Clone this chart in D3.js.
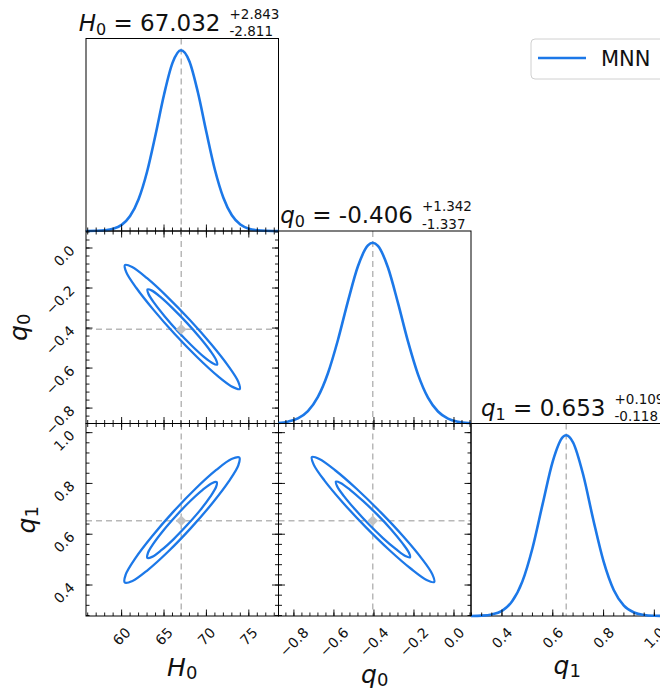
<!DOCTYPE html>
<html lang="en">
<head>
<meta charset="UTF-8">
<link rel="icon" href="data:,">
<style>
body {
  margin: 0;
  background: #fff;
}
svg text {
  font-family: "DejaVu Sans", sans-serif;
  fill: #111;
}
</style>
<script src="https://unpkg.com/d3@7.0.1/dist/d3.min.js"></script>
</head>
<body>
<svg id="view"></svg>
<script>
// parameters, best fit values and the 68% errors printed in the titles
const symbolMain = ["H", "q", "q"];
const symbolSub = ["0", "0", "1"];
const bestFit = [67.032, -0.406, 0.653];
const bestFitText = ["67.032", "-0.406", "0.653"];
const errUp = ["+2.843", "+1.342", "+0.109"];
const errDown = ["-2.811", "-1.337", "-0.118"];

// axis ranges and ticks
const axisRanges = [[55.8, 78.5], [-0.877, 0.085], [0.278, 1.036]];
const majorTicks = [[60, 65, 70, 75], [-0.8, -0.6, -0.4, -0.2, 0.0], [0.4, 0.6, 0.8, 1.0]];
const minorSteps = [1, 0.04, 0.04];

// 1D marginals (normalised to peak = 1)
const h0Grid = [55.8, 56, 57, 58, 59, 60, 61, 62, 63, 64, 65, 66, 67, 68, 69, 70, 71, 72, 73, 74, 75, 76, 77, 78, 78.5];
const h0Dens = [0.0002, 0.0002, 0.0010, 0.0037, 0.012, 0.034, 0.083, 0.176, 0.328, 0.533, 0.754, 0.930, 1.000, 0.938, 0.766, 0.546, 0.339, 0.184, 0.087, 0.036, 0.013, 0.004, 0.001, 0.0003, 0.0001];

const q0Grid = [-0.877, -0.83, -0.78, -0.73, -0.68, -0.63, -0.58, -0.53, -0.48, -0.43, -0.406, -0.38, -0.33, -0.28, -0.23, -0.18, -0.13, -0.08, -0.03, 0.02, 0.07, 0.085];
const q0Dens = [0.0031, 0.0102, 0.0282, 0.0687, 0.147, 0.278, 0.462, 0.676, 0.870, 0.985, 1.0, 0.983, 0.863, 0.667, 0.454, 0.272, 0.143, 0.0665, 0.0271, 0.0098, 0.0031, 0.0024];

const q1Grid = [0.278, 0.32, 0.36, 0.40, 0.44, 0.48, 0.52, 0.56, 0.60, 0.64, 0.653, 0.68, 0.72, 0.76, 0.80, 0.84, 0.88, 0.92, 0.96, 1.00, 1.036];
const q1Dens = [0.0004, 0.0021, 0.0086, 0.0288, 0.081, 0.190, 0.375, 0.619, 0.856, 0.991, 1.0, 0.960, 0.780, 0.530, 0.302, 0.144, 0.0576, 0.0193, 0.0054, 0.0013, 0.0002];

// 2D contours (95% outer, 68% inner), points as [x, y]
const h0q0Outer = [[73.93, -0.705], [73.07, -0.694], [71.31, -0.639], [68.92, -0.546], [66.26, -0.430], [63.74, -0.308], [61.74, -0.200], [60.56, -0.122],
                   [60.39, -0.085], [61.24, -0.095], [63.00, -0.151], [65.39, -0.244], [68.05, -0.360], [70.57, -0.481], [72.57, -0.589], [73.75, -0.668]];
const h0q0Inner = [[71.26, -0.583], [70.74, -0.576], [69.67, -0.543], [68.22, -0.486], [66.62, -0.416], [65.09, -0.342], [63.88, -0.277], [63.17, -0.230],
                   [63.06, -0.207], [63.58, -0.213], [64.64, -0.247], [66.09, -0.304], [67.70, -0.374], [69.22, -0.447], [70.43, -0.512], [71.15, -0.560]];

const h0q1Outer = [[73.88, 0.902], [73.76, 0.871], [72.64, 0.808], [70.67, 0.721], [68.16, 0.624], [65.50, 0.532], [63.08, 0.459], [61.28, 0.416],
                   [60.37, 0.410], [60.48, 0.441], [61.61, 0.505], [63.57, 0.591], [66.08, 0.688], [68.74, 0.780], [71.16, 0.853], [72.96, 0.896]];
const h0q1Inner = [[71.21, 0.805], [71.14, 0.786], [70.46, 0.748], [69.27, 0.695], [67.75, 0.637], [66.14, 0.581], [64.68, 0.537], [63.59, 0.511],
                   [63.04, 0.507], [63.10, 0.526], [63.79, 0.565], [64.97, 0.617], [66.49, 0.675], [68.10, 0.731], [69.56, 0.775], [70.65, 0.801]];

const q0q1Outer = [[-0.099, 0.412], [-0.137, 0.420], [-0.215, 0.464], [-0.322, 0.537], [-0.442, 0.629], [-0.556, 0.725], [-0.647, 0.811], [-0.701, 0.874],
                   [-0.710, 0.904], [-0.673, 0.896], [-0.594, 0.852], [-0.487, 0.779], [-0.367, 0.687], [-0.253, 0.591], [-0.162, 0.505], [-0.108, 0.442]];
const q0q1Inner = [[-0.220, 0.509], [-0.243, 0.514], [-0.290, 0.541], [-0.355, 0.585], [-0.427, 0.640], [-0.496, 0.699], [-0.551, 0.751], [-0.584, 0.789],
                   [-0.590, 0.807], [-0.567, 0.802], [-0.519, 0.775], [-0.455, 0.731], [-0.382, 0.676], [-0.313, 0.618], [-0.258, 0.565], [-0.225, 0.527]];

const legendLabel = "MNN";

const marginals = [d3.zip(h0Grid, h0Dens), d3.zip(q0Grid, q0Dens), d3.zip(q1Grid, q1Dens)];
const contours = new Map([
    ["1,0", [h0q0Outer, h0q0Inner]],
    ["2,0", [h0q1Outer, h0q1Inner]],
    ["2,1", [q0q1Outer, q0q1Inner]]
]);

// layout
const viewDims = { width: 660, height: 693 };
const gridLeft = 86, gridTop = 38.5, cell = 192.5;
const lineCol = "#1c78e8";
const guideCol = "#b8b8b8";
const tickFont = 14;
const xLabelBase = [676, 683, 674];
const yLabelX = [0, 27, 35];

const cellX = i => gridLeft + i*cell;
const cellY = j => gridTop + j*cell;

const xScales = axisRanges.map((r, i) => d3.scaleLinear().domain(r).range([cellX(i), cellX(i) + cell]));
const yScales = axisRanges.map((r, j) => d3.scaleLinear().domain(r).range([cellY(j) + cell, cellY(j)]));

const fmt = [d3.format("d"), d3.format(".1f"), d3.format(".1f")];

const svg = d3.select("svg#view")
    .attr("width", viewDims.width)
    .attr("height", viewDims.height);

function minorTicks(i){
    const [lo, hi] = axisRanges[i];
    const s = minorSteps[i];
    return d3.range(Math.ceil(lo/s - 1e-9), Math.floor(hi/s + 1e-9) + 1).map(k => +(k*s).toFixed(4));
}

// inward tick marks along one edge
function edgeTicks(g, scale, values, edge, pos, len){
    g.selectAll(null)
     .data(values)
     .enter()
     .append("line")
     .attr("x1", v => (edge === "bottom" || edge === "top") ? scale(v) : pos)
     .attr("x2", v => (edge === "bottom" || edge === "top") ? scale(v) : pos + (edge === "left" ? len : -len))
     .attr("y1", v => (edge === "left" || edge === "right") ? scale(v) : pos)
     .attr("y2", v => (edge === "left" || edge === "right") ? scale(v) : pos + (edge === "top" ? len : -len))
     .attr("stroke", "#000")
     .attr("stroke-width", 0.9);
}

function axisTicks(g, i, edge, pos){
    edgeTicks(g, (edge === "left" || edge === "right") ? yScales[i] : xScales[i], minorTicks(i), edge, pos, 3.5);
    edgeTicks(g, (edge === "left" || edge === "right") ? yScales[i] : xScales[i], majorTicks[i], edge, pos, 6.5);
}

function frame(g, i, j){
    g.append("rect")
     .attr("x", cellX(i)).attr("y", cellY(j))
     .attr("width", cell).attr("height", cell)
     .attr("fill", "none")
     .attr("stroke", "#000")
     .attr("stroke-width", 1);
}

function dashed(g, x1, y1, x2, y2){
    g.append("line")
     .attr("x1", x1).attr("y1", y1).attr("x2", x2).attr("y2", y2)
     .attr("stroke", guideCol)
     .attr("stroke-width", 1.5)
     .attr("stroke-dasharray", "6,4");
}

function symbolText(sel, i, size, subSize, shift){
    sel.append("tspan").attr("font-style", "italic").attr("font-size", size).text(symbolMain[i]);
    sel.append("tspan").attr("font-size", subSize).attr("dy", shift).text(symbolSub[i]);
}

function drawDiag(i){
    const g = svg.append("g").attr("class", "diag");
    const dens = d3.scaleLinear().domain([0, 1.065]).range([cellY(i) + cell, cellY(i)]);
    const bx = xScales[i](bestFit[i]);
    dashed(g, bx, cellY(i), bx, cellY(i) + cell);
    frame(g, i, i);
    g.append("path")
     .datum(marginals[i])
     .attr("d", d3.line().x(d => xScales[i](d[0])).y(d => dens(d[1])).curve(d3.curveMonotoneX))
     .attr("fill", "none")
     .attr("stroke", lineCol)
     .attr("stroke-width", 2.6);
    axisTicks(g, i, "bottom", cellY(i) + cell);

    // title
    const right = cellX(i) + cell, top = cellY(i);
    const t = svg.append("text")
        .attr("x", right - 58).attr("y", top - 8)
        .attr("text-anchor", "end")
        .attr("font-size", 23);
    symbolText(t, i, 23, 16, 4);
    t.append("tspan").attr("dy", -4).text(" = " + bestFitText[i]);
    svg.append("text").attr("x", right - 49).attr("y", top - 20).attr("font-size", 13.5).text(errUp[i]);
    svg.append("text").attr("x", right - 49).attr("y", top - 2.5).attr("font-size", 13.5).text(errDown[i]);
}

function drawPair(i, j){
    const g = svg.append("g").attr("class", "pair");
    const bx = xScales[i](bestFit[i]);
    const by = yScales[j](bestFit[j]);
    dashed(g, bx, cellY(j), bx, cellY(j) + cell);
    dashed(g, cellX(i), by, cellX(i) + cell, by);
    frame(g, i, j);
    const line = d3.line()
        .x(d => xScales[i](d[0]))
        .y(d => yScales[j](d[1]))
        .curve(d3.curveCatmullRomClosed.alpha(0.5));
    g.selectAll("path.contour")
     .data(contours.get(`${j},${i}`))
     .enter()
     .append("path")
     .attr("class", "contour")
     .attr("d", line)
     .attr("fill", "none")
     .attr("stroke", lineCol)
     .attr("stroke-width", 2.3);
    g.append("path")
     .attr("d", d3.symbol().type(d3.symbolSquare).size(56)())
     .attr("transform", `translate(${bx},${by}) rotate(45)`)
     .attr("fill", "#c4c4c4");
    axisTicks(g, i, "bottom", cellY(j) + cell);
    axisTicks(g, i, "top", cellY(j));
    axisTicks(g, j, "left", cellX(i));
    axisTicks(g, j, "right", cellX(i) + cell);
}

function xTickLabels(i){
    const axisY = cellY(2) + cell;
    majorTicks[i].forEach(v => {
        const t = svg.append("text")
            .attr("text-anchor", "end")
            .attr("dominant-baseline", "central")
            .attr("font-size", tickFont)
            .text(fmt[i](v));
        const w = t.node().getComputedTextLength();
        t.attr("transform", `translate(${xScales[i](v) + 0.354*w},${axisY + 14}) rotate(-45)`);
    });
    const lab = svg.append("text")
        .attr("x", cellX(i) + cell/2).attr("y", xLabelBase[i])
        .attr("text-anchor", "middle");
    symbolText(lab, i, 25, 18, 3);
}

function yTickLabels(j){
    const axisX = cellX(0);
    majorTicks[j].forEach(v => {
        svg.append("text")
           .attr("text-anchor", "end")
           .attr("dominant-baseline", "central")
           .attr("font-size", tickFont)
           .attr("transform", `translate(${axisX - 14},${yScales[j](v)}) rotate(-45)`)
           .text(fmt[j](v));
    });
    const lab = svg.append("text")
        .attr("text-anchor", "middle")
        .attr("transform", `translate(${yLabelX[j]},${cellY(j) + cell/2}) rotate(-90)`);
    symbolText(lab, j, 25, 18, 3);
}

function drawLegend(){
    const g = svg.append("g").attr("class", "legend");
    g.append("rect")
     .attr("x", 531).attr("y", 39)
     .attr("width", 150).attr("height", 40)
     .attr("rx", 4)
     .attr("fill", "#fff")
     .attr("stroke", "#d0d0d0");
    g.append("line")
     .attr("x1", 538).attr("x2", 586)
     .attr("y1", 58).attr("y2", 58)
     .attr("stroke", lineCol)
     .attr("stroke-width", 2.6);
    g.append("text")
     .attr("x", 601).attr("y", 65.5)
     .attr("font-size", 21)
     .text(legendLabel);
}

for(let j = 0; j < 3; j++){
    for(let i = 0; i <= j; i++){
        if(i === j) drawDiag(i);
        else drawPair(i, j);
    }
}
for(let i = 0; i < 3; i++) xTickLabels(i);
for(let j = 1; j < 3; j++) yTickLabels(j);
drawLegend();
</script>
</body>
</html>
